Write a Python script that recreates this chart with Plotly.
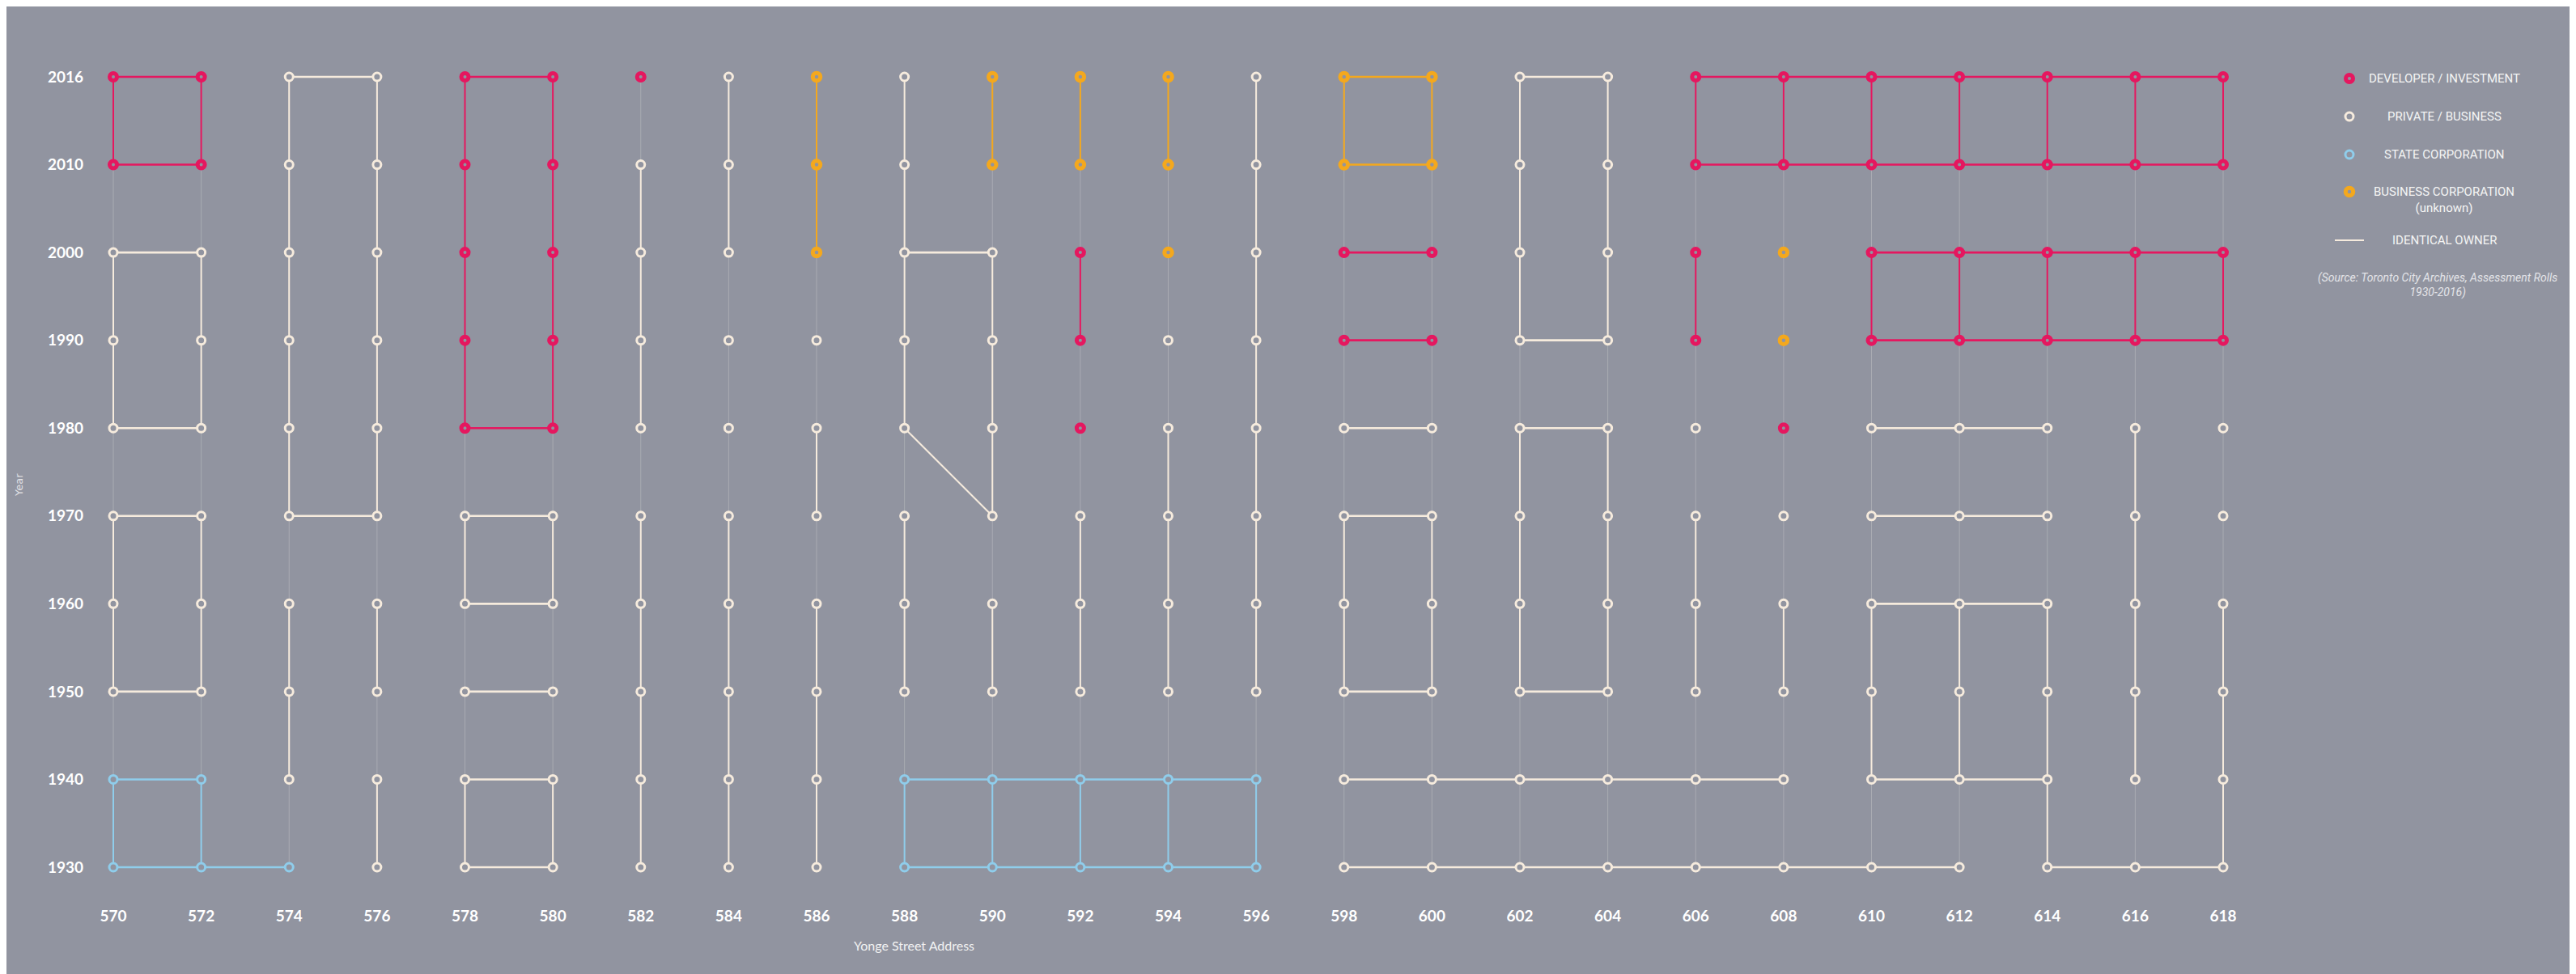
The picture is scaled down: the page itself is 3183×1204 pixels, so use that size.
import plotly.graph_objects as go

# ---------------- data ----------------
years = [1930, 1940, 1950, 1960, 1970, 1980, 1990, 2000, 2010, 2016]
addresses = [570, 572, 574, 576, 578, 580, 582, 584, 586, 588, 590, 592, 594,
             596, 598, 600, 602, 604, 606, 608, 610, 612, 614, 616, 618]

# owner type per address (570 ... 618) for each assessment year
# D = developer / investment, P = private / business,
# S = state corporation, B = business corporation (unknown)
owners_2016 = ["D", "D", "P", "P", "D", "D", "D", "P", "B", "P", "B", "B", "B",
               "P", "B", "B", "P", "P", "D", "D", "D", "D", "D", "D", "D"]
owners_2010 = ["D", "D", "P", "P", "D", "D", "P", "P", "B", "P", "B", "B", "B",
               "P", "B", "B", "P", "P", "D", "D", "D", "D", "D", "D", "D"]
owners_2000 = ["P", "P", "P", "P", "D", "D", "P", "P", "B", "P", "P", "D", "B",
               "P", "D", "D", "P", "P", "D", "B", "D", "D", "D", "D", "D"]
owners_1990 = ["P", "P", "P", "P", "D", "D", "P", "P", "P", "P", "P", "D", "P",
               "P", "D", "D", "P", "P", "D", "B", "D", "D", "D", "D", "D"]
owners_1980 = ["P", "P", "P", "P", "D", "D", "P", "P", "P", "P", "P", "D", "P",
               "P", "P", "P", "P", "P", "P", "D", "P", "P", "P", "P", "P"]
owners_1970 = ["P"] * 25
owners_1960 = ["P"] * 25
owners_1950 = ["P"] * 25
owners_1940 = ["S", "S", "P", "P", "P", "P", "P", "P", "P", "S", "S", "S", "S",
               "S", "P", "P", "P", "P", "P", "P", "P", "P", "P", "P", "P"]
owners_1930 = ["S", "S", "S", "P", "P", "P", "P", "P", "P", "S", "S", "S", "S",
               "S", "P", "P", "P", "P", "P", "P", "P", "P", "P", "P", "P"]

# identical owner, same address: address -> years whose link to the previous roll is unchanged
same_owner_down = {
    570: [2016, 2000, 1990, 1970, 1960, 1940],
    572: [2016, 2000, 1990, 1970, 1960, 1940],
    574: [2016, 2010, 2000, 1990, 1980, 1960, 1950],
    576: [2016, 2010, 2000, 1990, 1980, 1960, 1940],
    578: [2016, 2010, 2000, 1990, 1970, 1940],
    580: [2016, 2010, 2000, 1990, 1970, 1940],
    582: [2010, 2000, 1990, 1970, 1960, 1950, 1940],
    584: [2016, 2010, 1970, 1960, 1950, 1940],
    586: [2016, 2010, 1980, 1960, 1950, 1940],
    588: [2016, 2010, 2000, 1990, 1970, 1960, 1940],
    590: [2016, 2000, 1990, 1980, 1960, 1940],
    592: [2016, 2000, 1970, 1960, 1940],
    594: [2016, 1980, 1970, 1960, 1940],
    596: [2016, 2010, 2000, 1990, 1980, 1970, 1960, 1940],
    598: [2016, 1970, 1960],
    600: [2016, 1970, 1960],
    602: [2016, 2010, 2000, 1980, 1970, 1960],
    604: [2016, 2010, 2000, 1980, 1970, 1960],
    606: [2016, 2000, 1970, 1960],
    608: [2016, 1960],
    610: [2016, 2000, 1960, 1950],
    612: [2016, 2000, 1960, 1950],
    614: [2016, 2000, 1960, 1950, 1940],
    616: [2016, 2000, 1980, 1970, 1960, 1950],
    618: [2016, 2000, 1960, 1950, 1940],
}

# identical owner, neighbouring addresses: year -> left address of each linked pair
same_owner_across = {
    2016: [570, 574, 578, 598, 602, 606, 608, 610, 612, 614, 616],
    2010: [570, 598, 606, 608, 610, 612, 614, 616],
    2000: [570, 588, 598, 610, 612, 614, 616],
    1990: [598, 602, 610, 612, 614, 616],
    1980: [570, 578, 598, 602, 610, 612],
    1970: [570, 574, 578, 598, 610, 612],
    1960: [578, 610, 612],
    1950: [570, 578, 598, 602],
    1940: [570, 578, 588, 590, 592, 594, 598, 600, 602, 604, 606, 610, 612],
    1930: [570, 572, 578, 588, 590, 592, 594, 598, 600, 602, 604, 606, 608,
           610, 614, 616],
}

# identical owner moving between addresses: (address, year, address, year)
same_owner_moved = [(588, 1980, 590, 1970)]

legend_labels = ["DEVELOPER / INVESTMENT", "PRIVATE / BUSINESS", "STATE CORPORATION",
                 "BUSINESS CORPORATION<br>(unknown)", "IDENTICAL OWNER"]
source_note = "(Source: Toronto City Archives, Assessment Rolls<br>1930-2016)"

# ---------------- styles ----------------
BG = "#9194A0"
FAINT = "#A9ABB2"
COLORS = {"D": "#E5175F", "P": "#F6EBDD", "S": "#8FCDEB", "B": "#F4A81D"}
RING = {"D": (9, 5), "B": (9.5, 5), "P": (10, 3), "S": (10, 3)}
TYPE_ORDER = ["D", "P", "S", "B"]

owners = {1930: owners_1930, 1940: owners_1940, 1950: owners_1950, 1960: owners_1960,
          1970: owners_1970, 1980: owners_1980, 1990: owners_1990, 2000: owners_2000,
          2010: owners_2010, 2016: owners_2016}


def owner_at(addr, yr):
    return owners[yr][addresses.index(addr)]


fig = go.Figure()

# faint guide line per address
fx, fy = [], []
for a in addresses:
    fx += [a, a, None]
    fy += [str(years[0]), str(years[-1]), None]
fig.add_trace(go.Scatter(x=fx, y=fy, mode="lines", line=dict(color=FAINT, width=1),
                         hoverinfo="skip", showlegend=False))

# identical-owner links
vseg = {k: ([], []) for k in COLORS}
hseg = {k: ([], []) for k in COLORS}
for a, ups in same_owner_down.items():
    for up in ups:
        lo = years[years.index(up) - 1]
        c = owner_at(a, up)
        vseg[c][0].extend([a, a, None])
        vseg[c][1].extend([str(lo), str(up), None])
for yr, lefts in same_owner_across.items():
    for a in lefts:
        b = addresses[addresses.index(a) + 1]
        c = owner_at(a, yr)
        hseg[c][0].extend([a, b, None])
        hseg[c][1].extend([str(yr), str(yr), None])
for a1, y1, a2, y2 in same_owner_moved:
    c = owner_at(a1, y1)
    vseg[c][0].extend([a1, a2, None])
    vseg[c][1].extend([str(y1), str(y2), None])

for c in TYPE_ORDER:
    if vseg[c][0]:
        fig.add_trace(go.Scatter(x=vseg[c][0], y=vseg[c][1], mode="lines",
                                 line=dict(color=COLORS[c], width=2),
                                 hoverinfo="skip", showlegend=False))
    if hseg[c][0]:
        fig.add_trace(go.Scatter(x=hseg[c][0], y=hseg[c][1], mode="lines",
                                 line=dict(color=COLORS[c], width=2.6),
                                 hoverinfo="skip", showlegend=False))

# ownership markers
for c in TYPE_ORDER:
    mx, my = [], []
    for yr in years:
        for i, a in enumerate(addresses):
            if owners[yr][i] == c:
                mx.append(a)
                my.append(str(yr))
    size, lw = RING[c]
    fig.add_trace(go.Scatter(x=mx, y=my, mode="markers",
                             marker=dict(symbol="circle", size=size, color=BG,
                                         line=dict(color=COLORS[c], width=lw)),
                             hoverinfo="skip", showlegend=False))

# ---------------- layout ----------------
W, H = 3183, 1204
OFF = 8                     # page margin between screen and figure
L, R, T, B = 100, 391, 52, 112
PW, PH = W - L - R, H - T - B

# screen-pixel anchors
X570, X618 = 140 - OFF, 2747 - OFF
Y2016, Y1930 = 95 - OFF, 1072 - OFF


def px(xs):
    return (xs - OFF - L) / PW


def py(ys):
    return (H - B - (ys - OFF)) / PH


x_per = (X618 - X570) / (addresses[-1] - addresses[0])
y_per = (Y1930 - Y2016) / (len(years) - 1)

fig.update_layout(
    width=W, height=H,
    margin=dict(l=L, r=R, t=T, b=B),
    paper_bgcolor=BG, plot_bgcolor=BG,
    showlegend=False,
    font=dict(family="Lato, sans-serif", color="#FFFFFF"),
    xaxis=dict(range=[addresses[0] - (X570 - L) / x_per,
                      addresses[-1] + (W - R - X618) / x_per],
               tickvals=addresses, ticktext=[str(a) for a in addresses],
               showgrid=False, zeroline=False, showline=False, ticks="",
               ticklabelstandoff=19,
               tickfont=dict(family="Lato", size=19, color="#FFFFFF", weight="bold")),
    yaxis=dict(type="category", categoryarray=[str(y) for y in years],
               range=[-(H - B - Y1930) / y_per, len(years) - 1 + (Y2016 - T) / y_per],
               showgrid=False, zeroline=False, showline=False, ticks="",
               ticklabelstandoff=4,
               tickfont=dict(family="Lato", size=19, color="#FFFFFF", weight="bold")),
    hovermode=False,
)

annotations = [
    dict(text="Yonge Street Address", xref="paper", yref="paper", x=px(1129), y=py(1168),
         showarrow=False, xanchor="center", yanchor="middle",
         font=dict(family="Lato", size=16, color="#F2F2F2")),
    dict(text="Year", xref="paper", yref="paper", x=px(24), y=py(600), textangle=-90,
         showarrow=False, xanchor="center", yanchor="middle",
         font=dict(family="DejaVu Sans", size=13, color="#E2E2E6")),
]

shapes = []
legend_y = [97, 144, 191, 247, 297]
marker_y = [97, 144, 191, 237]
for k, c in enumerate(TYPE_ORDER):
    size, lw = RING[c]
    r = size / 2
    shapes.append(dict(type="circle", xref="paper", yref="paper",
                       xsizemode="pixel", ysizemode="pixel",
                       xanchor=px(2903), yanchor=py(marker_y[k]),
                       x0=-r, x1=r, y0=-r, y1=r,
                       fillcolor=BG, line=dict(color=COLORS[c], width=lw)))
shapes.append(dict(type="line", xref="paper", yref="paper",
                   x0=px(2885), x1=px(2921), y0=py(297), y1=py(297),
                   line=dict(color=COLORS["P"], width=2)))

for k, lab in enumerate(legend_labels):
    annotations.append(dict(text=lab, xref="paper", yref="paper", x=px(3020), y=py(legend_y[k]),
                            showarrow=False, xanchor="center", yanchor="middle", align="center",
                            font=dict(family="Roboto", size=15, color="#F4F4F4")))
annotations.append(dict(text="<i>" + source_note + "</i>", xref="paper", yref="paper",
                        x=px(3012), y=py(352), showarrow=False, xanchor="center",
                        yanchor="middle", align="center",
                        font=dict(family="Roboto", size=14, color="#E4E4E8")))

fig.update_layout(annotations=annotations, shapes=shapes)

fig.write_html("out.html")
